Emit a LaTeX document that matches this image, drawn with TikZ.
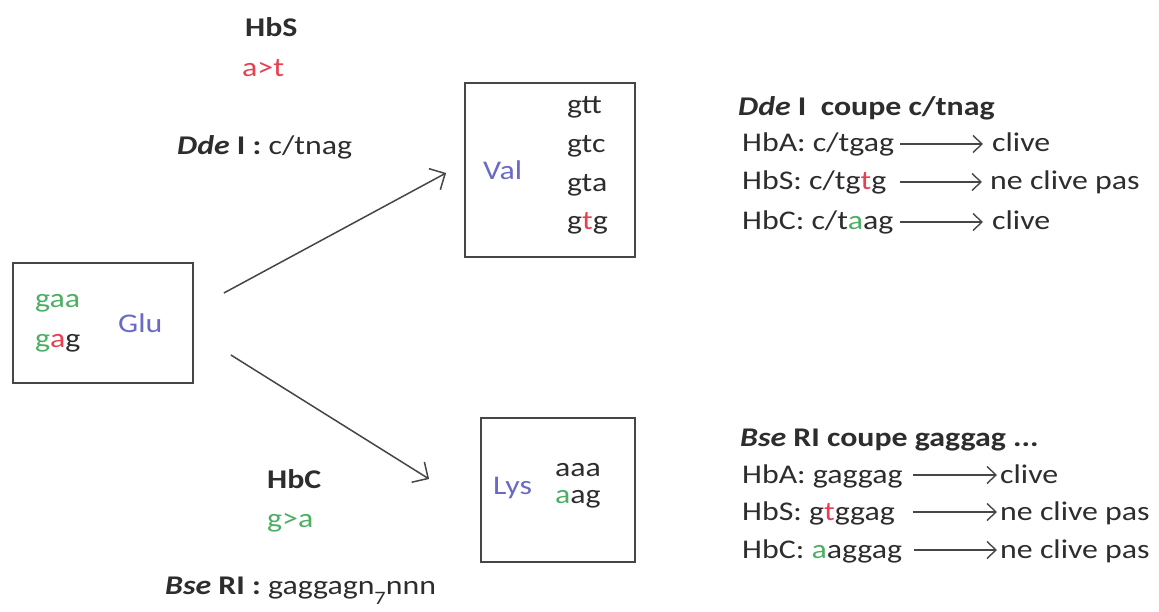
\documentclass[tikz,border=0pt]{standalone}
\usepackage{fontspec}
\setmainfont{Carlito}[FakeStretch=1.18]
\usetikzlibrary{arrows.meta}
\definecolor{txt}{RGB}{45,45,45}
\definecolor{gr}{RGB}{76,175,100}
\definecolor{rd}{RGB}{232,64,80}
\definecolor{aa}{RGB}{105,105,200}
\definecolor{ln}{RGB}{70,70,70}
\tikzset{
  lbl/.style={anchor=base west,inner sep=0pt,text=txt,font=\fontsize{27}{30}\selectfont},
  box/.style={draw=ln,line width=1.8pt,inner sep=0pt},
  bigarr/.style={draw=ln,line width=1.5pt,-{Straight Barb[length=12pt,width=24pt,line width=1.5pt]}},
  smarr/.style={draw=ln,line width=1.5pt,-{Straight Barb[length=9pt,width=17pt,line width=1.4pt]}}
}
\newcommand{\dd}{\textbf{\textit{Dde}}~\textbf{I}}
\newcommand{\bse}{\textbf{\textit{Bse}}~\textbf{RI}}
\begin{document}
\begin{tikzpicture}[x=1pt,y=-1pt]
\fill[white] (0,0) rectangle (1159,612);
\useasboundingbox (0,0) rectangle (1159,612);
% boxes
\node[box,minimum width=180pt,minimum height=120pt] (glu) at (103,323) {};
\node[box,minimum width=170pt,minimum height=174pt] (val) at (550,170) {};
\node[box,minimum width=154pt,minimum height=144pt] (lys) at (558,490) {};
% top-left labels
\node[lbl,font=\fontsize{27}{30}\selectfont\bfseries] (hbs) at (245,37) {HbS};
\node[lbl,text=rd] (at) at (242,77) {a>t};
\node[lbl] (dde) at (177,155) {\dd\ \textbf{:} c/tnag};
% Glu box content
\node[lbl,text=gr] (gaa) at (35,308) {gaa};
\node[lbl] (gag) at (35,347) {\textcolor{gr}{g}\textcolor{rd}{a}g};
\node[lbl,text=aa] (glut) at (118,332) {Glu};
% Val box content
\node[lbl,text=aa] (valt) at (483,180) {Val};
\node[lbl] (c1) at (567,114) {gtt};
\node[lbl] (c2) at (567,153) {gtc};
\node[lbl] (c3) at (567,192) {gta};
\node[lbl] (c4) at (567,230) {g\textcolor{rd}{t}g};
% Lys box content
\node[lbl,text=aa] (lyst) at (493,494) {Lys};
\node[lbl] (l1) at (555,476) {aaa};
\node[lbl] (l2) at (555,503) {\textcolor{gr}{a}ag};
% bottom-left labels
\node[lbl,font=\fontsize{27}{30}\selectfont\bfseries] (hbc) at (267,488) {HbC};
\node[lbl,text=gr] (ga) at (267,527) {g>a};
\node[lbl] (bsel) at (165,594) {\bse\ \textbf{:} gaggagn\raisebox{-0.4em}{\fontsize{19}{19}\selectfont 7}nnn};
% main arrows
\draw[bigarr] ([xshift=30pt,yshift=30pt]glu.east) -- ([xshift=-18pt,yshift=-3pt]val.west);
\draw[bigarr] ([xshift=37pt,yshift=-32pt]glu.east) -- ([xshift=-51pt,yshift=11pt]lys.west);
% right top block
\node[lbl,font=\fontsize{27}{30}\selectfont\bfseries] (t1) at (738,116) {\textit{Dde} I\ \ coupe c/tnag};
\node[lbl] (a1) at (742,152) {HbA: c/tgag};
\node[lbl] (a2) at (742,190) {HbS: c/tg\textcolor{rd}{t}g};
\node[lbl] (a3) at (742,230) {HbC: c/t\textcolor{gr}{a}ag};
\node[lbl] (r1) at (992,152) {clive};
\node[lbl] (r2) at (990,190) {ne clive pas};
\node[lbl] (r3) at (992,230) {clive};
\draw[smarr] ([xshift=6pt,yshift=8pt]a1.base east) -- ([xshift=-9pt,yshift=8pt]r1.base west);
\draw[smarr] ([xshift=14pt,yshift=8pt]a2.base east) -- ([xshift=-8pt,yshift=8pt]r2.base west);
\draw[smarr] ([xshift=6pt,yshift=8pt]a3.base east) -- ([xshift=-9pt,yshift=8pt]r3.base west);
% right bottom block
\node[lbl,font=\fontsize{27}{30}\selectfont\bfseries] (t2) at (740,446) {\textit{Bse} RI coupe gaggag ...};
\node[lbl] (b1) at (742,483) {HbA: gaggag};
\node[lbl] (b2) at (742,520) {HbS: g\textcolor{rd}{t}ggag};
\node[lbl] (b3) at (742,558) {HbC: \textcolor{gr}{a}aggag};
\node[lbl] (s1) at (1000,483) {clive};
\node[lbl] (s2) at (1000,520) {ne clive pas};
\node[lbl] (s3) at (1000,558) {ne clive pas};
\draw[smarr] ([xshift=10pt,yshift=8pt]b1.base east) -- ([xshift=-3pt,yshift=8pt]s1.base west);
\draw[smarr] ([xshift=18pt,yshift=8pt]b2.base east) -- ([xshift=-3pt,yshift=8pt]s2.base west);
\draw[smarr] ([xshift=12pt,yshift=8pt]b3.base east) -- ([xshift=-3pt,yshift=8pt]s3.base west);
\end{tikzpicture}
\end{document}
